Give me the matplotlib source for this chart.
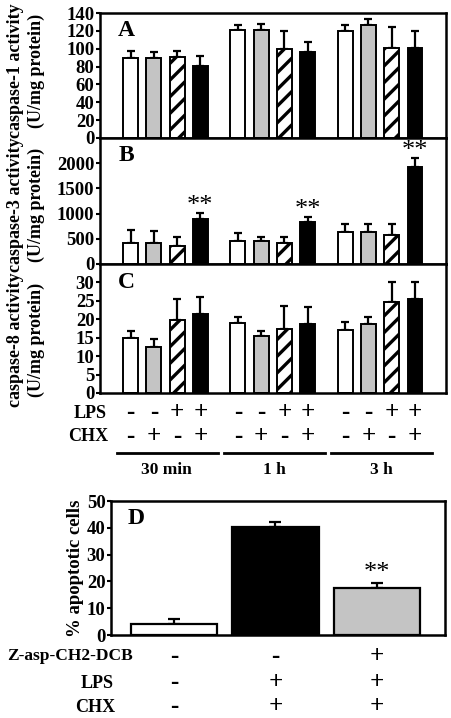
import numpy as np
import matplotlib
matplotlib.use("Agg")
import matplotlib.pyplot as plt
from matplotlib.transforms import blended_transform_factory

plt.rcParams['font.family'] = ['Liberation Serif', 'DejaVu Serif']
plt.rcParams['font.weight'] = 'bold'
plt.rcParams['hatch.linewidth'] = 2.4

# data
groups = ["30 min", "1 h", "3 h"]
lps = ["-", "-", "+", "+"]
chx = ["-", "+", "-", "+"]

casp1 = [[90, 90, 91, 81], [121, 121, 100, 96], [120, 127, 101, 101]]
casp1_err = [[8, 6, 6, 11], [6, 7, 20, 11], [7, 6, 23, 19]]

casp3 = [[420, 420, 360, 890], [448, 448, 420, 836], [639, 639, 573, 1930]]
casp3_err = [[250, 225, 180, 120], [160, 80, 107, 100], [150, 150, 230, 178]]
casp3_sig = [[False, False, False, True], [False, False, False, True], [False, False, False, True]]

casp8 = [[14.8, 12.5, 19.9, 21.4], [19.0, 15.5, 17.5, 18.8], [17.2, 18.8, 24.7, 25.4]]
casp8_err = [[2.0, 2.1, 5.7, 4.6], [1.6, 1.3, 6.1, 4.5], [2.1, 1.8, 5.4, 4.7]]

apop = [4.0, 40.4, 17.4]
apop_err = [1.8, 1.8, 2.1]
apop_sig = [False, False, True]
zasp_d = ["-", "-", "+"]
lps_d = ["-", "+", "+"]
chx_d = ["-", "+", "+"]

W, H = 451, 718
fig = plt.figure(figsize=(W / 100, H / 100), dpi=100)


def px_axes(x0, y0, x1, y1):
    return fig.add_axes([x0 / W, 1 - y1 / H, (x1 - x0) / W, (y1 - y0) / H])


face = ['white', '#c4c4c4', 'white', 'black']
hatch = [None, None, '//', None]
goff = 4.61
xpos = np.array([[g * goff + j for j in range(4)] for g in range(3)])


def panel(ax, vals, errs, ylim, ticks, letter, sig=None):
    for g in range(3):
        for j in range(4):
            ax.bar(xpos[g, j], vals[g][j], width=0.64, color=face[j], hatch=hatch[j],
                   edgecolor='black', linewidth=1.4, zorder=2)
            ax.errorbar(xpos[g, j], vals[g][j], yerr=[[0], [errs[g][j]]], fmt='none',
                        ecolor='black', elinewidth=1.6, capsize=2.8, capthick=1.6, zorder=1)
            if sig is not None and sig[g][j]:
                ax.annotate('**', (xpos[g, j], vals[g][j] + errs[g][j]), xytext=(0, -3),
                            textcoords='offset points', ha='center', va='bottom',
                            fontsize=19, fontweight='normal')
    ax.set_xlim(-1.31, 13.55)
    ax.set_ylim(*ylim)
    ax.set_yticks(ticks)
    ax.set_xticks([])
    ax.tick_params(axis='y', labelsize=13.5, length=3, width=1.5, pad=1)
    for s in ax.spines.values():
        s.set_linewidth(1.8)
    ax.text(0.075, 0.86, letter, transform=ax.transAxes, fontsize=17,
            ha='center', va='center')


axA = px_axes(100, 13, 446, 138)
panel(axA, casp1, casp1_err, (0, 140), range(0, 141, 20), 'A')
axB = px_axes(100, 138, 446, 264)
panel(axB, casp3, casp3_err, (0, 2500), range(0, 2001, 500), 'B', casp3_sig)
axC = px_axes(100, 264, 446, 393)
panel(axC, casp8, casp8_err, (0, 35), range(0, 31, 5), 'C')

ylabels = [("caspase-1 activity", 71), ("caspase-3 activity", 205), ("caspase-8 activity", 340)]
for txt, yc in ylabels:
    fig.text(16 / W, 1 - yc / H, txt, rotation=90, ha='center', va='center', fontsize=13)
    fig.text(36 / W, 1 - yc / H, "(U/mg protein)", rotation=90, ha='center', va='center',
             fontsize=13)

# treatment table below panel C
trC = blended_transform_factory(axC.transData, fig.transFigure)
fig.text(107 / W, 1 - 413 / H, "LPS", ha='right', va='center', fontsize=13)
fig.text(108 / W, 1 - 436 / H, "CHX", ha='right', va='center', fontsize=13)
for g in range(3):
    for j in range(4):
        axC.text(xpos[g, j], 1 - 413 / H, lps[j], transform=trC, ha='center', va='center',
                 fontsize=18)
        axC.text(xpos[g, j], 1 - 436 / H, chx[j], transform=trC, ha='center', va='center',
                 fontsize=18)
    axC.plot([xpos[g, 0] - 0.6, xpos[g, 3] + 0.75], [1 - 453 / H] * 2, transform=trC,
             color='black', linewidth=2, clip_on=False)
    axC.text((xpos[g, 0] + xpos[g, 3]) / 2 + 0.05, 1 - 470 / H, groups[g], transform=trC,
             ha='center', va='center', fontsize=12.5)

# panel D
axD = px_axes(111, 501, 445, 635)
xd = np.arange(3)
axD.bar(xd, apop, width=0.85, color=['white', 'black', '#c4c4c4'], edgecolor='black',
        linewidth=1.6, zorder=2)
axD.errorbar(xd, apop, yerr=[np.zeros(3), apop_err], fmt='none', ecolor='black',
             elinewidth=1.6, capsize=4, capthick=1.6, zorder=1)
for i in range(3):
    if apop_sig[i]:
        axD.annotate('**', (xd[i], apop[i] + apop_err[i]), xytext=(0, -1),
                     textcoords='offset points', ha='center', va='bottom',
                     fontsize=19, fontweight='normal')
axD.set_xlim(-0.62, 2.67)
axD.set_ylim(0, 50)
axD.set_yticks(range(0, 51, 10))
axD.set_xticks([])
axD.tick_params(axis='y', labelsize=13.5, length=3, width=1.5, pad=1)
for s in axD.spines.values():
    s.set_linewidth(1.8)
axD.set_ylabel("% apoptotic cells", fontsize=13.5, fontweight='bold', labelpad=2)
axD.text(0.075, 0.87, 'D', transform=axD.transAxes, fontsize=17, ha='center', va='center')

trD = blended_transform_factory(axD.transData, fig.transFigure)
fig.text(7 / W, 1 - 656 / H, "Z-asp-CH2-DCB", ha='left', va='center', fontsize=12.5)
fig.text(97 / W, 1 - 683 / H, "LPS", ha='center', va='center', fontsize=13)
fig.text(95 / W, 1 - 707 / H, "CHX", ha='center', va='center', fontsize=13)
for i in range(3):
    for row, yy in ((zasp_d, 656), (lps_d, 683), (chx_d, 707)):
        axD.text(xd[i], 1 - yy / H, row[i], transform=trD, ha='center', va='center',
                 fontsize=18)

fig.savefig("out.png", dpi=100)
